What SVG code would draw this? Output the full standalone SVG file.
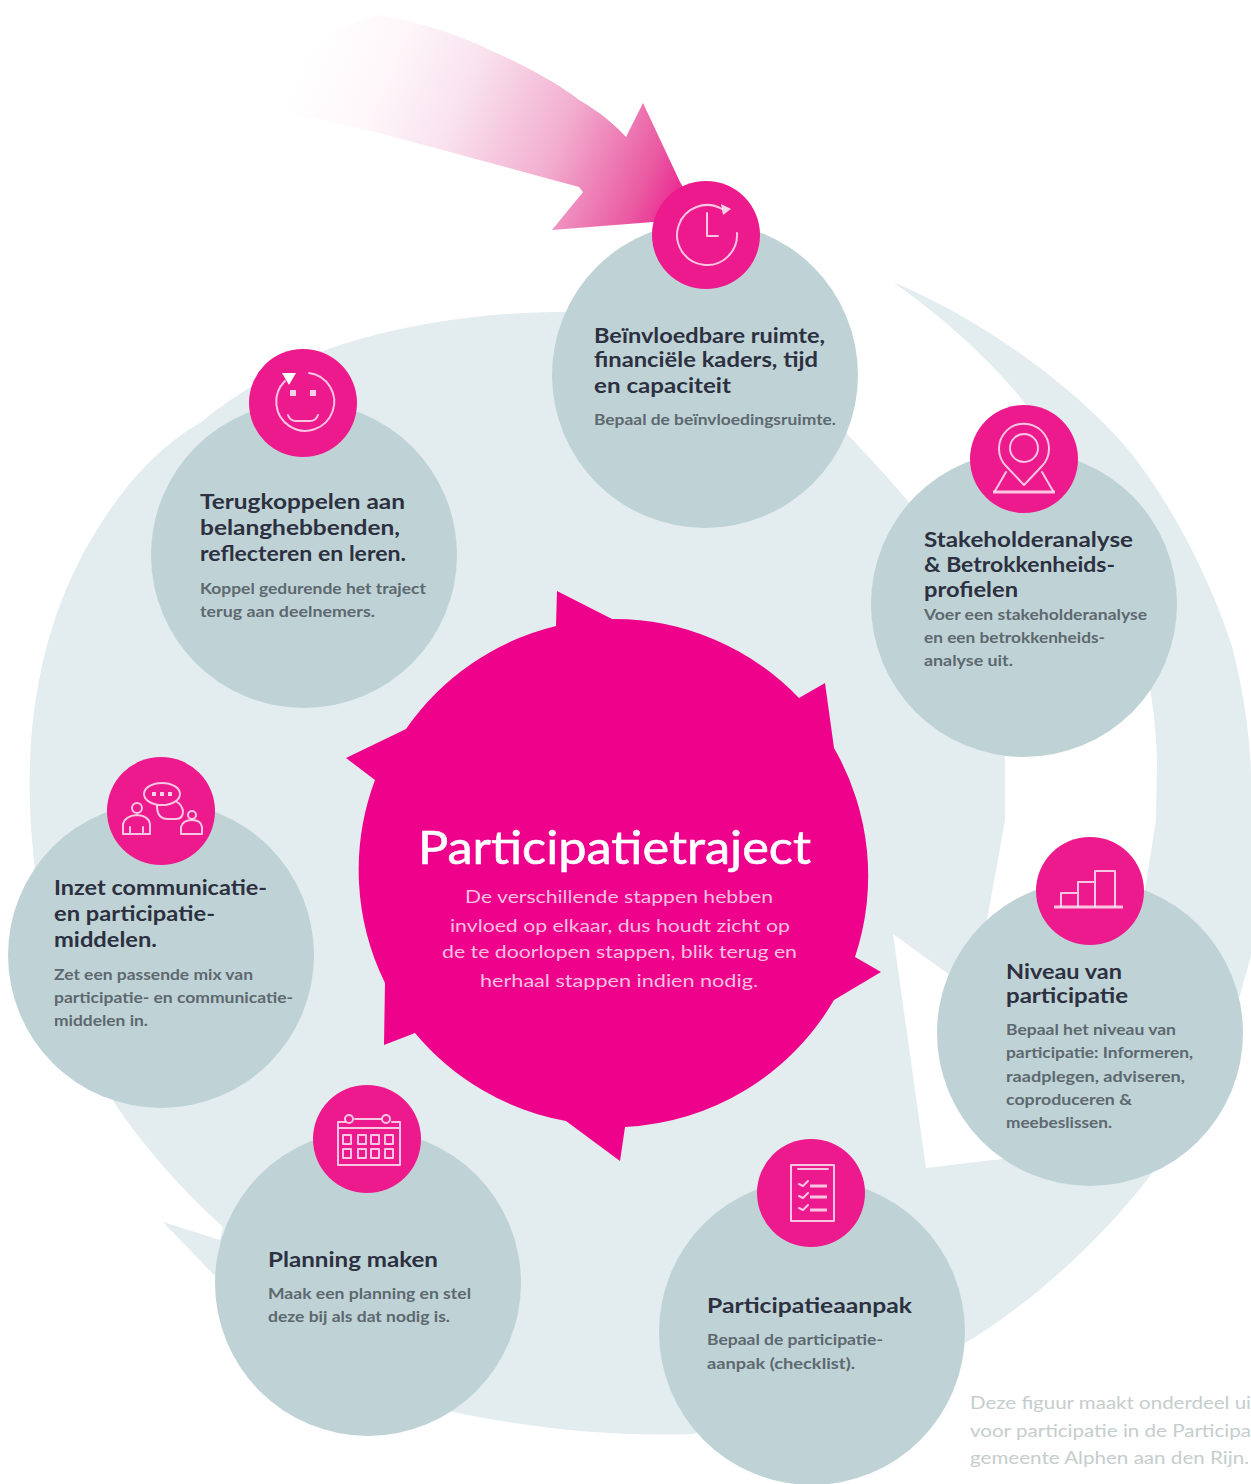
<svg xmlns="http://www.w3.org/2000/svg" width="1251" height="1484" viewBox="0 0 1251 1484">
<style>
.grey{fill:#bfd3d6}
.pink{fill:#ec1a8c}
.ic{fill:none;stroke:#fff;stroke-opacity:.75;stroke-width:2;stroke-linejoin:round;stroke-linecap:round}
.fat{stroke-width:3;stroke-linecap:butt}
.dot{fill:#fff;fill-opacity:.8}
text{font-family:"Lato","Liberation Sans",sans-serif}
.h{font-size:21px;font-weight:700;fill:#2c3040}
.b{font-size:15px;font-weight:700;fill:#5d686f}
.t{font-size:46px;font-weight:400;fill:#fff;stroke:#fff;stroke-width:.6}
.c{font-size:18px;font-weight:400;fill:#f9c0e0;text-anchor:middle}
.f{font-size:17px;font-weight:400;fill:#c5cdcd}
</style>
<defs>
<linearGradient id="fade" gradientUnits="userSpaceOnUse" x1="680" y1="225" x2="300" y2="60">
<stop offset="0" stop-color="#ec1a8c"/>
<stop offset=".12" stop-color="#ea5aa2"/>
<stop offset=".35" stop-color="#f2aecf"/>
<stop offset=".6" stop-color="#f9e2ee"/>
<stop offset=".8" stop-color="#fef7fa"/>
<stop offset="1" stop-color="#fff"/>
</linearGradient>
</defs>
<g id="connectors">
<path id="ring" fill="#e3ecee" d="M893 282 C960 310 1050 365 1117 437 C1170 495 1215 590 1233 650 C1243 690 1251 740 1251 780 L1251 956 L1238 1002 C1215 1070 1185 1130 1147 1180 C1100 1240 1030 1305 965 1343 L693 1434 C610 1437 530 1428 453 1412 L213 1274 L163 1222 L220 1240 L223 1227 Q160 1170 115 1104 C70 1020 40 940 33 850 C20 720 45 610 100 525 C135 470 170 440 200 423 C240 390 285 365 334 347 C410 322 490 312 566 312 C640 312 700 330 760 365 C790 385 825 410 850 437 C870 458 890 480 907 500 C965 570 1000 670 1005 760 L1005 820 L987 920 L975 990 L947 973 L893 934 L926 1168 L1010 1158 L1145 1000 L1145 890 L1156 820 L1157 760 C1155 640 1100 500 1020 397 C985 355 940 315 893 282Z"/>
<path id="entry-arrow" fill="url(#fade)" d="M245 107 C290 60 330 25 379 15 C420 22 460 35 490 50 C530 68 560 85 579 100 C600 112 615 125 626 137 L643 103 L680 182 L710 235 L653 222 L552 230 L583 192 L579 187 Q480 160 379 133 Q310 116 245 107Z"/>
<path id="hub" fill="#ee028b" d="M557 591 L612 619 A256 256 0 0 1 799 698 L825 683 L834 748 A256 256 0 0 1 855 957 L881 972 L834 1000 A256 256 0 0 1 625 1127 L620 1161 L566 1121 A256 256 0 0 1 415 1033 L384 1045 L385 983 A256 256 0 0 1 375 780 L346 758 L406 729 A256 256 0 0 1 556 626Z"/>
</g>
<g id="hub-text">
<text class="t" x="418" y="864" textLength="393" lengthAdjust="spacingAndGlyphs">Participatietraject</text>
<text class="c" x="619" y="903" textLength="308" lengthAdjust="spacingAndGlyphs">De verschillende stappen hebben</text>
<text class="c" x="620" y="932" textLength="340" lengthAdjust="spacingAndGlyphs">invloed op elkaar, dus houdt zicht op</text>
<text class="c" x="619.5" y="958" textLength="355" lengthAdjust="spacingAndGlyphs">de te doorlopen stappen, blik terug en</text>
<text class="c" x="619" y="987" textLength="278" lengthAdjust="spacingAndGlyphs">herhaal stappen indien nodig.</text>
</g>
<g id="node-invloed">
<circle class="grey" cx="705" cy="375" r="153"/>
<circle class="pink" cx="706" cy="235" r="54"/>
<path class="ic" d="M722 209 A30 30 0 1 0 737 233 M707 213 V236 H718"/>
<path class="dot" d="M721 204 L731 209 L723 215Z"/>
<text class="h" x="594" y="343" textLength="231" lengthAdjust="spacingAndGlyphs">Beïnvloedbare ruimte,</text>
<text class="h" x="594" y="367" textLength="224" lengthAdjust="spacingAndGlyphs">financiële kaders, tijd</text>
<text class="h" x="594" y="393" textLength="137" lengthAdjust="spacingAndGlyphs">en capaciteit</text>
<text class="b" x="594" y="425" textLength="242" lengthAdjust="spacingAndGlyphs">Bepaal de beïnvloedingsruimte.</text>
</g>
<g id="node-stakeholder">
<circle class="grey" cx="1024" cy="604" r="153"/>
<circle class="pink" cx="1024" cy="459" r="54"/>
<path class="ic" d="M1024 485 L1006 466 A25 25 0 1 1 1042 466Z"/>
<circle class="ic" cx="1024" cy="448" r="14"/>
<path class="ic" d="M1006 472 L995 491 M1042 472 L1053 491"/>
<path class="ic fat" d="M993 492 H1055"/>
<text class="h" x="924" y="547" textLength="209" lengthAdjust="spacingAndGlyphs">Stakeholderanalyse</text>
<text class="h" x="924" y="572" textLength="191" lengthAdjust="spacingAndGlyphs">&amp; Betrokkenheids-</text>
<text class="h" x="924" y="597" textLength="94" lengthAdjust="spacingAndGlyphs">profielen</text>
<text class="b" x="924" y="620" textLength="223" lengthAdjust="spacingAndGlyphs">Voer een stakeholderanalyse</text>
<text class="b" x="924" y="643" textLength="181" lengthAdjust="spacingAndGlyphs">en een betrokkenheids-</text>
<text class="b" x="924" y="666" textLength="89" lengthAdjust="spacingAndGlyphs">analyse uit.</text>
</g>
<g id="node-niveau">
<circle class="grey" cx="1090" cy="1033" r="153"/>
<circle class="pink" cx="1090" cy="891" r="54"/>
<path class="ic" d="M1061 906 V893 H1078 V906 M1078 893 V882 H1095 V906 M1095 882 V871 H1115 V906"/>
<path class="ic fat" d="M1054 907 H1123"/>
<text class="h" x="1006" y="979" textLength="116" lengthAdjust="spacingAndGlyphs">Niveau van</text>
<text class="h" x="1006" y="1003" textLength="122" lengthAdjust="spacingAndGlyphs">participatie</text>
<text class="b" x="1006" y="1035" textLength="170" lengthAdjust="spacingAndGlyphs">Bepaal het niveau van</text>
<text class="b" x="1006" y="1058" textLength="187" lengthAdjust="spacingAndGlyphs">participatie: Informeren,</text>
<text class="b" x="1006" y="1082" textLength="179" lengthAdjust="spacingAndGlyphs">raadplegen, adviseren,</text>
<text class="b" x="1006" y="1105" textLength="126" lengthAdjust="spacingAndGlyphs">coproduceren &amp;</text>
<text class="b" x="1006" y="1128" textLength="106" lengthAdjust="spacingAndGlyphs">meebeslissen.</text>
</g>
<g id="node-aanpak">
<circle class="grey" cx="812" cy="1332" r="153"/>
<circle class="pink" cx="811" cy="1193" r="54"/>
<path class="ic" d="M791 1165 H834 V1221 H791Z M798 1169 H828"/>
<path class="ic" d="M799 1184 L803 1186 L808 1181 M799 1196 L803 1198 L808 1193 M799 1208 L803 1210 L808 1205"/>
<path class="ic fat" d="M810 1186 H827 M810 1197 H827 M810 1210 H827"/>
<text class="h" x="707" y="1313" textLength="205" lengthAdjust="spacingAndGlyphs">Participatieaanpak</text>
<text class="b" x="707" y="1345" textLength="176" lengthAdjust="spacingAndGlyphs">Bepaal de participatie-</text>
<text class="b" x="707" y="1369" textLength="148" lengthAdjust="spacingAndGlyphs">aanpak (checklist).</text>
</g>
<g id="node-planning">
<circle class="grey" cx="368" cy="1283" r="153"/>
<circle class="pink" cx="367" cy="1139" r="54"/>
<path class="ic" d="M338 1122 V1165 H400 V1122 M338 1128 H400 M355 1119 H381 M338 1122 H345 M392 1122 H400"/>
<circle class="ic" cx="349" cy="1119" r="4"/>
<circle class="ic" cx="386" cy="1119" r="4"/>
<path class="ic" d="M343 1135 h8 v9 h-8z M358 1135 h8 v9 h-8z M371 1135 h8 v9 h-8z M385 1135 h8 v9 h-8z M343 1149 h8 v9 h-8z M358 1149 h8 v9 h-8z M371 1149 h8 v9 h-8z M385 1149 h8 v9 h-8z"/>
<text class="h" x="268" y="1267" textLength="170" lengthAdjust="spacingAndGlyphs">Planning maken</text>
<text class="b" x="268" y="1299" textLength="203" lengthAdjust="spacingAndGlyphs">Maak een planning en stel</text>
<text class="b" x="268" y="1322" textLength="182" lengthAdjust="spacingAndGlyphs">deze bij als dat nodig is.</text>
</g>
<g id="node-inzet">
<circle class="grey" cx="161" cy="955" r="153"/>
<circle class="pink" cx="161" cy="811" r="54"/>
<ellipse class="ic" cx="162" cy="794" rx="18" ry="11"/>
<path class="dot" d="M152 792 h4 v4 h-4z M160 792 h4 v4 h-4z M168 792 h4 v4 h-4z"/>
<path class="ic" d="M157 806 Q157 819 168 819 H176 Q183 819 183 811 Q182 805 177 802"/>
<circle class="ic" cx="137" cy="808" r="5"/>
<path class="ic" d="M123 834 V824 Q125 816 137 815 Q149 816 150 824 V834Z M130 827 V834 M143 827 V834"/>
<circle class="ic" cx="192" cy="815" r="4"/>
<path class="ic" d="M181 834 V827 Q183 820 192 820 Q201 820 202 827 V834Z"/>
<text class="h" x="54" y="895" textLength="213" lengthAdjust="spacingAndGlyphs">Inzet communicatie-</text>
<text class="h" x="54" y="921" textLength="161" lengthAdjust="spacingAndGlyphs">en participatie-</text>
<text class="h" x="54" y="947" textLength="103" lengthAdjust="spacingAndGlyphs">middelen.</text>
<text class="b" x="54" y="980" textLength="199" lengthAdjust="spacingAndGlyphs">Zet een passende mix van</text>
<text class="b" x="54" y="1003" textLength="239" lengthAdjust="spacingAndGlyphs">participatie- en communicatie-</text>
<text class="b" x="54" y="1026" textLength="94" lengthAdjust="spacingAndGlyphs">middelen in.</text>
</g>
<g id="node-terugkoppelen">
<circle class="grey" cx="304" cy="555" r="153"/>
<circle class="pink" cx="303" cy="403" r="54"/>
<path class="ic" d="M309 373 A29 29 0 1 1 285 381"/>
<path class="ic" d="M288 415 Q290 421 296 421 H310 Q316 421 318 415"/>
<path class="dot" d="M290 390 h6 v6 h-6z M310 390 h6 v6 h-6z"/>
<path fill="#fff" d="M282 373 L296 373 L289 385Z"/>
<text class="h" x="200" y="509" textLength="205" lengthAdjust="spacingAndGlyphs">Terugkoppelen aan</text>
<text class="h" x="200" y="535" textLength="200" lengthAdjust="spacingAndGlyphs">belanghebbenden,</text>
<text class="h" x="200" y="561" textLength="206" lengthAdjust="spacingAndGlyphs">reflecteren en leren.</text>
<text class="b" x="200" y="594" textLength="226" lengthAdjust="spacingAndGlyphs">Koppel gedurende het traject</text>
<text class="b" x="200" y="617" textLength="175" lengthAdjust="spacingAndGlyphs">terug aan deelnemers.</text>
</g>
<g id="footnote">
<text class="f" x="970" y="1409" textLength="281" lengthAdjust="spacingAndGlyphs">Deze figuur maakt onderdeel ui</text>
<text class="f" x="970" y="1437" textLength="281" lengthAdjust="spacingAndGlyphs">voor participatie in de Participa</text>
<text class="f" x="970" y="1464" textLength="279" lengthAdjust="spacingAndGlyphs">gemeente Alphen aan den Rijn.</text>
</g>
</svg>
